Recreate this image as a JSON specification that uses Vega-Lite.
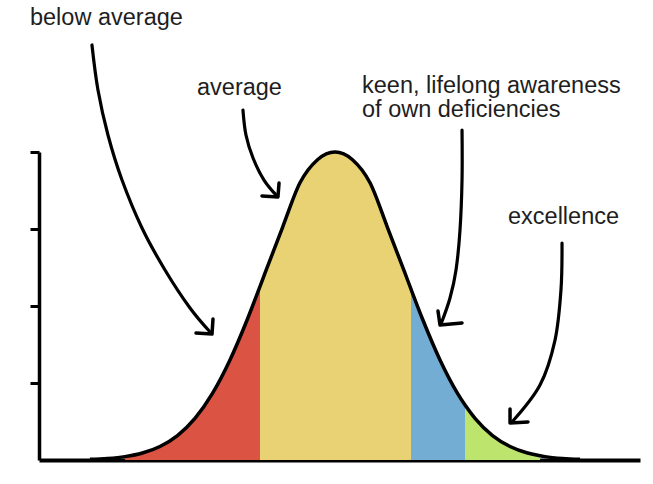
{
  "$schema": "https://vega.github.io/schema/vega-lite/v6.json",
  "width": 601,
  "height": 308,
  "padding": {"left": 39, "top": 152, "right": 13, "bottom": 24},
  "autosize": {"type": "none"},
  "background": "white",
  "config": {"view": {"stroke": null}},
  "datasets": {
    "curve": [
      {"x": 0.678, "y": 0.009}, {"x": 0.911, "y": 0.020}, {"x": 1.144, "y": 0.044},
      {"x": 1.377, "y": 0.091}, {"x": 1.610, "y": 0.176}, {"x": 1.843, "y": 0.318},
      {"x": 2.076, "y": 0.541}, {"x": 2.309, "y": 0.865}, {"x": 2.542, "y": 1.299},
      {"x": 2.775, "y": 1.831}, {"x": 2.942, "y": 2.254}, {"x": 3.008, "y": 2.426},
      {"x": 3.241, "y": 3.019}, {"x": 3.474, "y": 3.6}, {"x": 3.707, "y": 3.9},
      {"x": 3.94, "y": 4.0}, {"x": 4.173, "y": 3.9}, {"x": 4.406, "y": 3.6},
      {"x": 4.639, "y": 3.019}, {"x": 4.872, "y": 2.426}, {"x": 4.952, "y": 2.218},
      {"x": 5.105, "y": 1.831}, {"x": 5.338, "y": 1.299}, {"x": 5.571, "y": 0.865},
      {"x": 5.671, "y": 0.713}, {"x": 5.804, "y": 0.541}, {"x": 6.037, "y": 0.318},
      {"x": 6.270, "y": 0.176}, {"x": 6.503, "y": 0.091}, {"x": 6.67, "y": 0.055},
      {"x": 6.736, "y": 0.044}, {"x": 6.969, "y": 0.020}, {"x": 7.202, "y": 0.009}
    ],
    "zones": [
      {"zone": "below average", "x": 1.144, "y": 0.044}, {"zone": "below average", "x": 1.377, "y": 0.091},
      {"zone": "below average", "x": 1.610, "y": 0.176}, {"zone": "below average", "x": 1.843, "y": 0.318},
      {"zone": "below average", "x": 2.076, "y": 0.541}, {"zone": "below average", "x": 2.309, "y": 0.865},
      {"zone": "below average", "x": 2.542, "y": 1.299}, {"zone": "below average", "x": 2.775, "y": 1.831},
      {"zone": "below average", "x": 2.942, "y": 2.254},
      {"zone": "average", "x": 2.942, "y": 2.254}, {"zone": "average", "x": 3.008, "y": 2.426},
      {"zone": "average", "x": 3.241, "y": 3.019}, {"zone": "average", "x": 3.474, "y": 3.6},
      {"zone": "average", "x": 3.707, "y": 3.9}, {"zone": "average", "x": 3.94, "y": 4.0},
      {"zone": "average", "x": 4.173, "y": 3.9}, {"zone": "average", "x": 4.406, "y": 3.6},
      {"zone": "average", "x": 4.639, "y": 3.019}, {"zone": "average", "x": 4.872, "y": 2.426},
      {"zone": "average", "x": 4.952, "y": 2.218},
      {"zone": "awareness", "x": 4.952, "y": 2.218}, {"zone": "awareness", "x": 5.105, "y": 1.831},
      {"zone": "awareness", "x": 5.338, "y": 1.299}, {"zone": "awareness", "x": 5.571, "y": 0.865},
      {"zone": "awareness", "x": 5.671, "y": 0.713},
      {"zone": "excellence", "x": 5.671, "y": 0.713}, {"zone": "excellence", "x": 5.804, "y": 0.541},
      {"zone": "excellence", "x": 6.037, "y": 0.318}, {"zone": "excellence", "x": 6.270, "y": 0.176},
      {"zone": "excellence", "x": 6.503, "y": 0.091}, {"zone": "excellence", "x": 6.67, "y": 0.055}
    ],
    "arrows": [
      {"arrow": "a1", "i": 0, "x": 0.705, "y": 5.390}, {"arrow": "a1", "i": 1, "x": 0.785, "y": 4.805},
      {"arrow": "a1", "i": 2, "x": 0.918, "y": 4.221}, {"arrow": "a1", "i": 3, "x": 1.105, "y": 3.636},
      {"arrow": "a1", "i": 4, "x": 1.371, "y": 3.013}, {"arrow": "a1", "i": 5, "x": 1.677, "y": 2.468},
      {"arrow": "a1", "i": 6, "x": 2.010, "y": 1.974}, {"arrow": "a1", "i": 7, "x": 2.290, "y": 1.649},
      {"arrow": "a2", "i": 0, "x": 2.715, "y": 4.545}, {"arrow": "a2", "i": 1, "x": 2.755, "y": 4.221},
      {"arrow": "a2", "i": 2, "x": 2.849, "y": 3.922}, {"arrow": "a2", "i": 3, "x": 2.995, "y": 3.636},
      {"arrow": "a2", "i": 4, "x": 3.168, "y": 3.429},
      {"arrow": "a3", "i": 0, "x": 5.631, "y": 4.286}, {"arrow": "a3", "i": 1, "x": 5.631, "y": 3.636},
      {"arrow": "a3", "i": 2, "x": 5.604, "y": 2.987}, {"arrow": "a3", "i": 3, "x": 5.551, "y": 2.468},
      {"arrow": "a3", "i": 4, "x": 5.471, "y": 2.104}, {"arrow": "a3", "i": 5, "x": 5.351, "y": 1.766},
      {"arrow": "a4", "i": 0, "x": 6.962, "y": 2.818}, {"arrow": "a4", "i": 1, "x": 6.948, "y": 2.208},
      {"arrow": "a4", "i": 2, "x": 6.869, "y": 1.558}, {"arrow": "a4", "i": 3, "x": 6.669, "y": 0.974},
      {"arrow": "a4", "i": 4, "x": 6.296, "y": 0.494}
    ],
    "heads": [
      {"arrow": "a1", "i": 0, "x": 2.090, "y": 1.649}, {"arrow": "a1", "i": 1, "x": 2.303, "y": 1.636}, {"arrow": "a1", "i": 2, "x": 2.316, "y": 1.831},
      {"arrow": "a2", "i": 0, "x": 2.968, "y": 3.429}, {"arrow": "a2", "i": 1, "x": 3.181, "y": 3.416}, {"arrow": "a2", "i": 2, "x": 3.195, "y": 3.597},
      {"arrow": "a3", "i": 0, "x": 5.311, "y": 1.935}, {"arrow": "a3", "i": 1, "x": 5.338, "y": 1.753}, {"arrow": "a3", "i": 2, "x": 5.631, "y": 1.779},
      {"arrow": "a4", "i": 0, "x": 6.270, "y": 0.662}, {"arrow": "a4", "i": 1, "x": 6.270, "y": 0.481}, {"arrow": "a4", "i": 2, "x": 6.509, "y": 0.494}
    ],
    "labels": [
      {"text": "below average", "x": -0.12, "y": 5.74},
      {"text": "average", "x": 2.103, "y": 4.831},
      {"text": "keen, lifelong awareness\nof own deficiencies", "x": 4.30, "y": 4.857},
      {"text": "excellence", "x": 6.243, "y": 3.156}
    ]
  },
  "layer": [
    {
      "data": {"name": "zones"},
      "mark": {"type": "area", "interpolate": "monotone", "opacity": 1},
      "encoding": {
        "x": {"field": "x", "type": "quantitative", "title": null,
              "scale": {"domain": [0, 8], "nice": false, "zero": false},
              "axis": {"domainColor": "black", "domainWidth": 4, "ticks": false, "labels": false, "grid": false, "title": null}},
        "y": {"field": "y", "type": "quantitative", "title": null, "stack": null,
              "scale": {"domain": [0, 4], "nice": false, "zero": false},
              "axis": {"domainColor": "black", "domainWidth": 3.5, "ticks": true, "tickColor": "black", "tickWidth": 3, "tickSize": 9, "values": [1, 2, 3, 4], "labels": false, "grid": false, "title": null}},
        "color": {"field": "zone", "type": "nominal", "legend": null,
                  "scale": {"domain": ["below average", "average", "awareness", "excellence"],
                            "range": ["#db5443", "#e9d274", "#74add3", "#bde46d"]}}
      }
    },
    {
      "data": {"name": "curve"},
      "mark": {"type": "line", "interpolate": "monotone", "color": "black", "strokeWidth": 3.5},
      "encoding": {
        "x": {"field": "x", "type": "quantitative", "title": null},
        "y": {"field": "y", "type": "quantitative", "title": null}
      }
    },
    {
      "data": {"name": "arrows"},
      "mark": {"type": "line", "interpolate": "cardinal", "color": "black", "strokeWidth": 3.2, "strokeCap": "round"},
      "encoding": {
        "x": {"field": "x", "type": "quantitative", "title": null},
        "y": {"field": "y", "type": "quantitative", "title": null},
        "detail": {"field": "arrow", "type": "nominal"},
        "order": {"field": "i", "type": "quantitative"}
      }
    },
    {
      "data": {"name": "heads"},
      "mark": {"type": "line", "interpolate": "linear", "color": "black", "strokeWidth": 3.5, "strokeCap": "round", "strokeJoin": "round"},
      "encoding": {
        "x": {"field": "x", "type": "quantitative", "title": null},
        "y": {"field": "y", "type": "quantitative", "title": null},
        "detail": {"field": "arrow", "type": "nominal"},
        "order": {"field": "i", "type": "quantitative"}
      }
    },
    {
      "data": {"name": "labels"},
      "mark": {"type": "text", "align": "left", "baseline": "middle", "font": "Liberation Sans", "fontSize": 23.5, "lineHeight": 23.5, "lineBreak": "\n", "color": "#1e1e1e"},
      "encoding": {
        "x": {"field": "x", "type": "quantitative", "title": null},
        "y": {"field": "y", "type": "quantitative", "title": null},
        "text": {"field": "text", "type": "nominal"}
      }
    }
  ]
}
